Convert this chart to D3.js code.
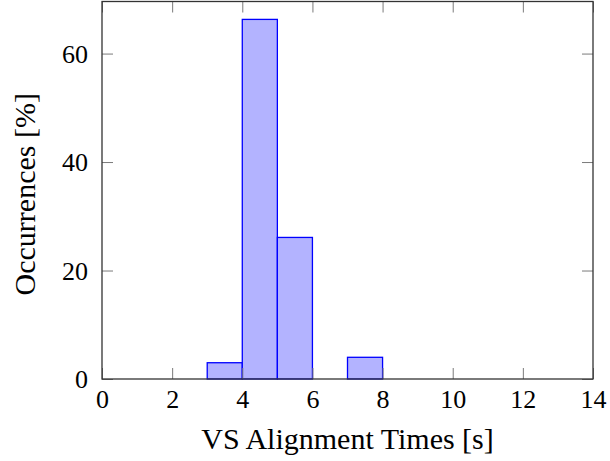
<!DOCTYPE html>
<html>
<head>
<meta charset="utf-8">
<script src="https://cdn.jsdelivr.net/npm/d3@7"></script>
<style>
  body { margin: 0; background: #fff; }
</style>
</head>
<body>
<svg id="chart" width="610" height="461"></svg>
<script>
// histogram bins (seconds) and occurrences in percent
var binStart = [3, 4, 5, 6, 7];
var binEnd = [4, 5, 6, 7, 8];
var occurrences = [3.0, 66.3, 26.1, 0, 4.0];

var xTicks = [0, 2, 4, 6, 8, 10, 12, 14];
var yTicks = [0, 20, 40, 60];

var serif = "'Liberation Serif', 'Times New Roman', serif";

var margin = {top: 1.5, right: 17, bottom: 82, left: 102},
    width = 610 - margin.left - margin.right,
    height = 461 - margin.top - margin.bottom;

var x = d3.scaleLinear()
    .domain([0, 14])
    .range([0, width]);

var y = d3.scaleLinear()
    .domain([0, 69.6])
    .range([height, 0]);

var svg = d3.select("#chart")
    .append("g")
    .attr("transform", "translate(" + margin.left + "," + margin.top + ")");

var bins = binStart.map(function(d, i) {
    return {x0: d, x1: binEnd[i], v: occurrences[i]};
});

// bars
svg.selectAll(".bar")
    .data(bins)
    .enter()
    .append("rect")
    .attr("class", "bar")
    .attr("x", function(d) { return x(d.x0); })
    .attr("y", function(d) { return y(d.v); })
    .attr("width", function(d) { return x(d.x1) - x(d.x0); })
    .attr("height", function(d) { return y(0) - y(d.v); })
    .attr("fill", "#b3b3ff")
    .attr("stroke", "#0000ff")
    .attr("stroke-width", 1.3);

// axes, ticks inside on all four sides
var tickLen = 11;

var xAxis = d3.axisBottom(x).tickValues(xTicks).tickSizeInner(-tickLen).tickSizeOuter(0).tickPadding(10.5);
var xAxisTop = d3.axisTop(x).tickValues(xTicks).tickSizeInner(-tickLen).tickSizeOuter(0).tickFormat("");
var yAxis = d3.axisLeft(y).tickValues(yTicks).tickSizeInner(-tickLen).tickSizeOuter(0).tickPadding(14);
var yAxisRight = d3.axisRight(y).tickValues(yTicks).tickSizeInner(-tickLen).tickSizeOuter(0).tickFormat("");

function styleAxis(g) {
    g.attr("font-family", null);
    g.select(".domain").remove();
    g.selectAll(".tick line").attr("stroke", "#7a7a7a").attr("stroke-width", 1);
    g.selectAll(".tick text")
        .style("font-family", serif)
        .style("font-size", "26px")
        .attr("fill", "#000");
}

svg.append("g")
    .attr("class", "x axis")
    .attr("transform", "translate(0," + height + ")")
    .call(xAxis)
    .call(styleAxis);

svg.append("g")
    .attr("class", "x axis top")
    .call(xAxisTop)
    .call(styleAxis);

svg.append("g")
    .attr("class", "y axis")
    .call(yAxis)
    .call(styleAxis)
    .selectAll(".tick text")
    .attr("dy", "0.34em");

svg.append("g")
    .attr("class", "y axis right")
    .attr("transform", "translate(" + width + ",0)")
    .call(yAxisRight)
    .call(styleAxis);

// frame
svg.append("rect")
    .attr("x", 0)
    .attr("y", 0)
    .attr("width", width)
    .attr("height", height)
    .attr("fill", "none")
    .attr("stroke", "#333")
    .attr("stroke-width", 1.3);

// labels
svg.append("text")
    .attr("x", width / 2)
    .attr("y", height + 70)
    .style("text-anchor", "middle")
    .style("font-family", serif)
    .style("font-size", "30px")
    .text("VS Alignment Times [s]");

svg.append("text")
    .attr("transform", "translate(" + (-67) + "," + (height / 2 + 4) + ") rotate(-90)")
    .style("text-anchor", "middle")
    .style("font-family", serif)
    .style("font-size", "30px")
    .text("Occurrences [%]");
</script>
</body>
</html>
